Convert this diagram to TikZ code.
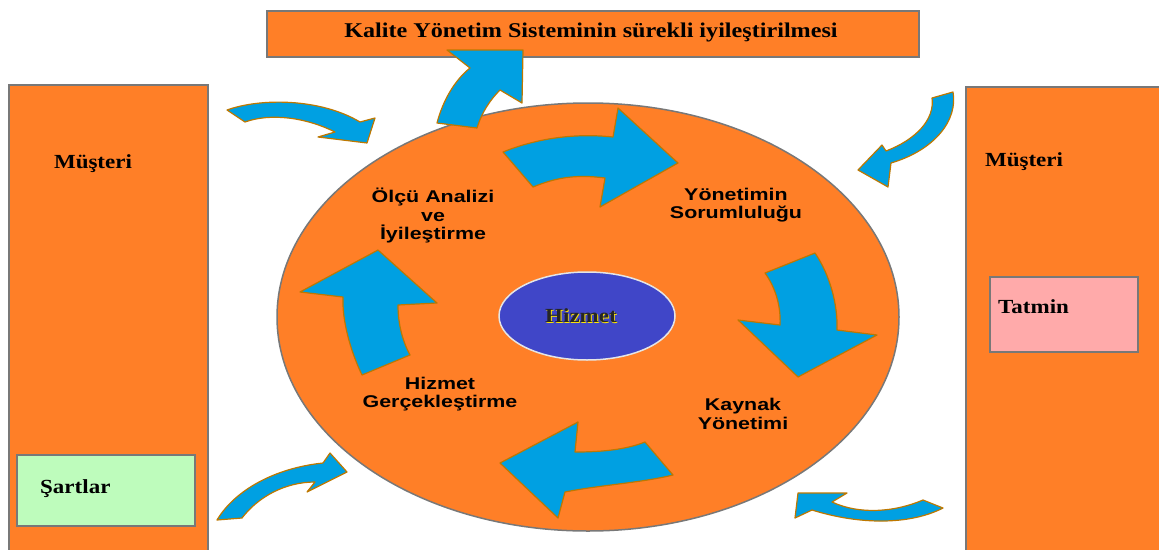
\documentclass[tikz,border=0pt]{standalone}
\usepackage{fontspec}
\newfontfamily\serfont[FakeStretch=1.15]{Liberation Serif}
\newfontfamily\sanfont[FakeStretch=1.26]{Liberation Sans}
\definecolor{orng}{RGB}{255,127,39}
\definecolor{boxgray}{RGB}{120,120,120}
\definecolor{greenbox}{RGB}{190,252,188}
\definecolor{pinkbox}{RGB}{255,170,170}
\definecolor{innerblue}{RGB}{64,70,200}
\definecolor{arrblue}{RGB}{0,160,226}
\definecolor{arredge}{RGB}{190,120,0}
\tikzset{
  panel/.style={fill=orng, draw=boxgray, line width=1.5pt},
  serlbl/.style={font=\serfont\bfseries\fontsize{20}{22}\selectfont, inner sep=0pt},
  sanlbl/.style={font=\sanfont\bfseries\fontsize{17}{18.5}\selectfont, align=center, inner sep=0pt},
  bluearrow/.style={fill=arrblue, draw=arredge, line width=1.2pt, line join=round},
}
\begin{document}
\begin{tikzpicture}[x=1pt,y=-1pt]
\useasboundingbox (0,0) rectangle (1159,549);
\clip (0,0) rectangle (1159,549);
\fill[white] (0,0) rectangle (1159,549);

% side panels
\draw[panel] (9,85) rectangle (208,560);
\draw[panel] (966,87) rectangle (1170,560);
\node[serlbl] (mus1) at (93,164) {Müşteri};
\node[serlbl] (mus2) at (1024,162) {Müşteri};
\draw[fill=greenbox, draw=boxgray, line width=1.5pt] (17,455) rectangle (195,526);
\node[serlbl, anchor=west] (sart) at (40,489) {Şartlar};
\draw[fill=pinkbox, draw=boxgray, line width=1.5pt] (990,277) rectangle (1138,352);
\node[serlbl, anchor=west] (tat) at (998,307) {Tatmin};

% title box
\draw[panel] (267,11) rectangle (919,57);
\node[serlbl, font=\serfont\bfseries\fontsize{21}{23}\selectfont] (title) at (591,32) {Kalite Yönetim Sisteminin sürekli iyileştirilmesi};

% big ellipse
\draw[fill=orng, draw=boxgray, line width=1.5pt] (588,317) ellipse [x radius=311, y radius=214];
\draw[fill=innerblue, draw=white!80!gray, line width=1.5pt] (587,316) ellipse [x radius=88, y radius=44];
\node[font=\serfont\bfseries\fontsize{20}{22}\selectfont, text=yellow!90!orange] at (581.8,316.8) {Hizmet};
\node[serlbl, text=black!85] (hiz) at (581,316) {Hizmet};

% labels
\node[sanlbl] (olcu) at (433,216) {Ölçü Analizi\\ve\\İyileştirme};
\node[sanlbl] (yon) at (736,205) {Yönetimin\\Sorumluluğu};
\node[sanlbl] (hg) at (440,394) {Hizmet\\Gerçekleştirme};
\node[sanlbl] (ky) at (743,414) {Kaynak\\Yönetimi};

% inner cycle arrows
\draw[bluearrow] (503,152) .. controls (545,135) and (585,134) .. (613,137) -- (618,108) -- (678,163) -- (600,207) -- (605,178) .. controls (575,174) and (555,178) .. (533,187) -- cycle;
\draw[bluearrow] (765,273) -- (815,253) .. controls (830,275) and (838,305) .. (837,330) -- (877,335) -- (798,377) -- (738,320) -- (780,325) .. controls (781,305) and (775,287) .. cycle;
\draw[bluearrow] (645,442) -- (673,475) .. controls (640,483) and (600,485) .. (565,492) -- (558,518) -- (500,463) -- (578,422) -- (575,452) .. controls (600,452) and (625,450) .. cycle;
\draw[bluearrow] (410,355) -- (362,375) .. controls (350,350) and (342,320) .. (343,297) -- (300,292) -- (378,250) -- (437,303) -- (398,305) .. controls (398,325) and (403,342) .. cycle;

% arrow to title
\draw[bluearrow] (447,50) -- (523,50) -- (522,103) -- (500,90) .. controls (490,100) and (482,112) .. (477,128) -- (437,123) .. controls (443,100) and (455,80) .. (470,68) -- cycle;

% outer arrows
\draw[bluearrow] (227,110) .. controls (260,98) and (320,98) .. (360,122) -- (375,118) -- (367,143) -- (318,137) -- (335,132) .. controls (305,117) and (270,113) .. (245,122) -- cycle;
\draw[bluearrow] (217,520) .. controls (235,490) and (275,468) .. (323,463) -- (330,453) -- (347,472) -- (307,492) -- (315,482) .. controls (285,482) and (258,497) .. (242,518) -- cycle;
\draw[bluearrow] (932,98) -- (953,92) .. controls (958,120) and (935,150) .. (891,163) -- (888,187) -- (858,170) -- (882,145) -- (886,151) .. controls (915,140) and (935,120) .. cycle;
\draw[bluearrow] (923,500) -- (943,508) .. controls (910,525) and (860,525) .. (812,510) -- (795,518) -- (798,493) -- (847,493) -- (832,502) .. controls (860,515) and (895,512) .. cycle;
\end{tikzpicture}
\end{document}
